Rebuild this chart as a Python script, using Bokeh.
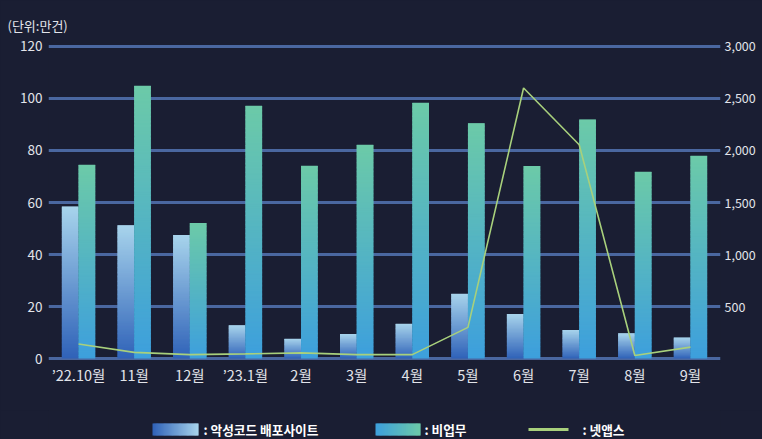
import numpy as np
from bokeh.plotting import figure
from bokeh.models import Range1d, LinearAxis, FixedTicker, NumeralTickFormatter, ColumnDataSource
from bokeh.layouts import column
from bokeh.core.properties import value
from bokeh.embed import file_html
from bokeh.resources import INLINE

# ---------------- data ----------------
months = ["’22.10월", "11월", "12월", "’23.1월", "2월", "3월", "4월", "5월", "6월", "7월", "8월", "9월"]
malicious = [58.5, 51.3, 47.5, 12.8, 7.6, 9.5, 13.4, 24.9, 17.1, 11.0, 9.7, 8.1]          # 만건, left axis
non_business = [74.5, 104.9, 52.1, 97.2, 74.1, 82.2, 98.3, 90.5, 74.0, 91.9, 71.8, 78.0]  # 만건, left axis
netapps = [140, 60, 38, 45, 55, 38, 38, 300, 2600, 2055, 30, 110]                          # right axis
left_ticks = [0, 20, 40, 60, 80, 100, 120]
right_ticks = [500, 1000, 1500, 2000, 2500, 3000]
legend_labels = [": 악성코드 배포사이트", ": 비업무", ": 넷앱스"]
unit_label = "(단위:만건)"

# ---------------- style ----------------
BG = "#1a1e33"
GRID = "#4a67a0"
TXT = "#e2e4ea"
FONT = "Noto Sans CJK KR"
MAL_BOTTOM, MAL_TOP = "#2f62b8", "#a8d4ec"
NB_BOTTOM, NB_TOP = "#3d9fdd", "#6ccaa8"
LINE = "#a8d07c"
BAR_W = 0.3
W, H_MAIN, H_LEG = 762, 410, 29
F_LEFT, F_W = 48, 672
X_PAD = 0.04


def hex2rgb(h):
    h = h.lstrip("#")
    return np.array([int(h[i:i + 2], 16) for i in (0, 2, 4)], dtype=float)


def lerp(c1, c2, t):
    c = hex2rgb(c1) * (1 - t) + hex2rgb(c2) * t
    return "#%02x%02x%02x" % tuple(int(round(v)) for v in c)


def vertical_gradient_bars(lefts, rights, vals, c_bot, c_top, step=0.5):
    L, R, B, T, C = [], [], [], [], []
    for l, r, v in zip(lefts, rights, vals):
        n = max(12, int(np.ceil(v / step)))
        for i in range(n):
            L.append(l)
            R.append(r)
            B.append(v * i / n)
            T.append(min(v, v * (i + 1.8) / n))
            C.append(lerp(c_bot, c_top, (i + 0.5) / n))
    return ColumnDataSource(dict(left=L, right=R, bottom=B, top=T, color=C))


# ---------------- main figure ----------------
centers = [i + 0.5 for i in range(len(months))]

p = figure(width=W, height=H_MAIN, output_backend="svg", toolbar_location=None,
           x_range=Range1d(-X_PAD, len(months) + X_PAD), y_range=Range1d(-1.5, 121.5),
           min_border_left=F_LEFT, min_border_right=W - F_LEFT - F_W,
           min_border_top=42, min_border_bottom=H_MAIN - 42 - 320,
           background_fill_color=BG, border_fill_color=BG, outline_line_color=None)

p.title.text = unit_label
p.title.align = "left"
p.title.offset = -41
p.title.standoff = 16
p.title.text_font = FONT
p.title.text_font_size = "13px"
p.title.text_font_style = "normal"
p.title.text_color = TXT

p.extra_y_ranges = {"right": Range1d(-1.5 * 25, 121.5 * 25)}

# grid
p.xgrid.visible = False
p.ygrid.ticker = FixedTicker(ticks=left_ticks)
p.ygrid.grid_line_color = GRID
p.ygrid.grid_line_width = 3

# bars
mal_src = vertical_gradient_bars([c - BAR_W for c in centers], centers, malicious, MAL_BOTTOM, MAL_TOP)
nb_src = vertical_gradient_bars(centers, [c + BAR_W for c in centers], non_business, NB_BOTTOM, NB_TOP)
p.quad(left="left", right="right", bottom="bottom", top="top", fill_color="color", line_color=None, source=mal_src)
p.quad(left="left", right="right", bottom="bottom", top="top", fill_color="color", line_color=None, source=nb_src)

# line
p.line(centers, netapps, y_range_name="right", line_color=LINE, line_width=1.6)

# axes
for ax in [p.xaxis[0], p.yaxis[0]]:
    ax.axis_line_color = None
    ax.major_tick_line_color = None
    ax.minor_tick_line_color = None
    ax.major_tick_out = 0
    ax.minor_tick_out = 0
    ax.major_label_text_font = FONT
    ax.major_label_text_color = TXT

p.yaxis[0].ticker = FixedTicker(ticks=left_ticks)
p.yaxis[0].major_label_standoff = 6
p.yaxis[0].major_label_text_font_size = "13.5px"

p.xaxis[0].ticker = FixedTicker(ticks=centers)
p.xaxis[0].major_label_overrides = {c: m for c, m in zip(centers, months)}
p.xaxis[0].major_label_standoff = 1
p.xaxis[0].major_label_text_font_size = "14.5px"

ry = LinearAxis(y_range_name="right", ticker=FixedTicker(ticks=right_ticks),
                formatter=NumeralTickFormatter(format="0,0"))
ry.axis_line_color = None
ry.major_tick_line_color = None
ry.minor_tick_line_color = None
ry.major_tick_out = 0
ry.minor_tick_out = 0
ry.major_label_text_font = FONT
ry.major_label_text_font_size = "12.5px"
ry.major_label_text_color = TXT
ry.major_label_standoff = 4
p.add_layout(ry, "right")

# ---------------- legend figure (frame aligned with main frame; 1 unit = 1 px) ----------------
lg = figure(width=W, height=H_LEG, output_backend="svg", toolbar_location=None,
            x_range=Range1d(F_LEFT, F_LEFT + F_W), y_range=Range1d(0, H_LEG),
            min_border_left=F_LEFT, min_border_right=W - F_LEFT - F_W, min_border_top=0, min_border_bottom=0,
            x_axis_type=None, y_axis_type=None,
            background_fill_color=BG, border_fill_color=BG, outline_line_color=None)
lg.grid.visible = False

yc, sh = 10, 12


def horizontal_swatch(x0, x1, c_left, c_right, n=40):
    w = (x1 - x0) / n
    L = [x0 + i * w for i in range(n)]
    R = [min(x1, x0 + (i + 1.8) * w) for i in range(n)]
    C = [lerp(c_left, c_right, (i + 0.5) / n) for i in range(n)]
    return ColumnDataSource(dict(left=L, right=R, color=C))


s1 = horizontal_swatch(152, 198, MAL_BOTTOM, MAL_TOP)
s2 = horizontal_swatch(375, 420, NB_BOTTOM, NB_TOP)
for s in (s1, s2):
    lg.quad(left="left", right="right", bottom=yc - sh / 2, top=yc + sh / 2,
            fill_color="color", line_color=None, source=s)
lg.line([528, 568], [yc, yc], line_color=LINE, line_width=3)

lg.text(x=[203, 424, 582], y=[yc, yc, yc], text=legend_labels,
        text_font=value(FONT), text_font_size="12.7px", text_font_style="bold",
        text_color="#ffffff", text_baseline="middle", text_align="left")

layout = column(p, lg, spacing=0)
layout.background = BG

open("out.html", "w").write(file_html(layout, INLINE))
